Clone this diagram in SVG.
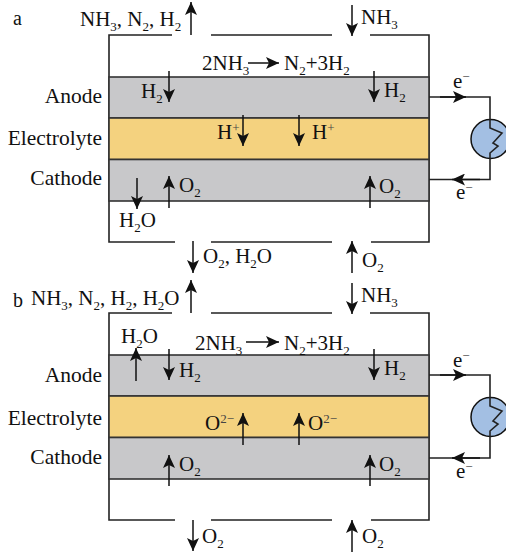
<svg xmlns="http://www.w3.org/2000/svg" width="506" height="553" viewBox="0 0 506 553">
<style>
text{font-family:"Liberation Serif","Times New Roman",serif;font-size:21px;fill:#111}
.t{font-size:21.500px}
.s{font-size:13px}
.p{font-size:13px;fill:#444}
.l{text-anchor:end}
.w{fill:none;stroke:#222;stroke-width:1.6}
.g{fill:#c8c8ca;stroke:#333;stroke-width:1.6}
.y{fill:#f4d27f;stroke:#333;stroke-width:1.6}
.a{stroke:#111;stroke-width:1.5;fill:none;marker-end:url(#h)}
.m{fill:#a3bfe3;stroke:#111;stroke-width:1.5}
</style>
<defs><marker id="h" markerUnits="userSpaceOnUse" markerWidth="14" markerHeight="12" refX="13" refY="6" orient="auto"><path d="M0 0L13 6L0 12L3 6Z" fill="#111"/></marker></defs>
<text x="13" y="25" style="font-size:20px">a</text>
<text x="13" y="307" style="font-size:20px">b</text>
<g id="cell-a">
<path class="w" d="M172 35H109V242H175M211 35H332M370 35H429V242H371M332 242H211"/>
<rect class="g" x="109" y="77" width="320" height="41"/>
<rect class="y" x="109" y="118" width="320" height="41.500"/>
<rect class="g" x="109" y="159.500" width="320" height="41.500"/>
</g>
<g id="cell-b">
<path class="w" d="M172 313H109V520H175M211 313H332M370 313H429V520H371M332 520H211"/>
<rect class="g" x="109" y="355" width="320" height="41"/>
<rect class="y" x="109" y="396" width="320" height="41.500"/>
<rect class="g" x="109" y="437.500" width="320" height="41.500"/>
</g>
<g id="meter-a"><circle class="m" cx="490.500" cy="139" r="19.500"/><path class="w" d="M490 119V128L502 133L493 143L498 146L490 153V158"/></g>
<g id="meter-b"><circle class="m" cx="490.500" cy="417" r="19.500"/><path class="w" d="M490 397V406L502 411L493 421L498 424L490 431V436"/></g>
<g id="connectors">
<path class="a" d="M191 35V2"/><path class="a" d="M352 5V36"/><path class="a" d="M248 63H279"/><path class="a" d="M169 71V102"/><path class="a" d="M374 71V102"/><path class="a" d="M243 115V146"/><path class="a" d="M299 115V146"/><path class="a" d="M137 178V209"/><path class="a" d="M169 208V176"/><path class="a" d="M370 208V176"/><path class="a" d="M193 241V273"/><path class="a" d="M352 273V241"/>
<path class="w" d="M429 97H490V119M490 158V179.500H429"/><path class="a" d="M440 97H466"/><path class="a" d="M480 179.500H452"/>
<path class="a" d="M191 313V280"/><path class="a" d="M352 283V314"/><path class="a" d="M246 342H279"/><path class="a" d="M136 381V348"/><path class="a" d="M169 349V380"/><path class="a" d="M374 349V380"/><path class="a" d="M243 445V413"/><path class="a" d="M299 445V413"/><path class="a" d="M169 486V455"/><path class="a" d="M370 486V455"/><path class="a" d="M193 520V551"/><path class="a" d="M352 552V520"/>
<path class="w" d="M429 375H490V397M490 436V458H429"/><path class="a" d="M440 375H466"/><path class="a" d="M480 458H452"/>
</g>
<g id="labels-a">
<text x="102" y="103" class="l t">Anode</text><text x="102" y="145" class="l t">Electrolyte</text><text x="102" y="185" class="l t">Cathode</text>
<text x="80" y="26">NH<tspan class="s" dy="5">3</tspan><tspan dy="-5">, N</tspan><tspan class="s" dy="5">2</tspan><tspan dy="-5">, H</tspan><tspan class="s" dy="5">2</tspan></text>
<text x="361" y="24">NH<tspan class="s" dy="5">3</tspan></text>
<text x="202" y="70">2NH<tspan class="s" dy="5">3</tspan></text>
<text x="284" y="70">N<tspan class="s" dy="5">2</tspan><tspan dy="-5">+3H</tspan><tspan class="s" dy="5">2</tspan></text>
<text x="141" y="98">H<tspan class="s" dy="5">2</tspan></text><text x="384" y="97">H<tspan class="s" dy="5">2</tspan></text>
<text x="217" y="139">H<tspan class="p" dy="-7">+</tspan></text><text x="312" y="139">H<tspan class="p" dy="-7">+</tspan></text>
<text x="179" y="192">O<tspan class="s" dy="5">2</tspan></text><text x="379" y="193">O<tspan class="s" dy="5">2</tspan></text>
<text x="119" y="227">H<tspan class="s" dy="5">2</tspan><tspan dy="-5">O</tspan></text>
<text x="203" y="263">O<tspan class="s" dy="5">2</tspan><tspan dy="-5">, H</tspan><tspan class="s" dy="5">2</tspan><tspan dy="-5">O</tspan></text>
<text x="362" y="267">O<tspan class="s" dy="5">2</tspan></text>
<text x="453" y="88">e<tspan class="p" dy="-7">−</tspan></text><text x="456" y="199">e<tspan class="p" dy="-7">−</tspan></text>
</g>
<g id="labels-b">
<text x="102" y="382" class="l t">Anode</text><text x="102" y="425" class="l t">Electrolyte</text><text x="102" y="464" class="l t">Cathode</text>
<text x="31" y="305">NH<tspan class="s" dy="5">3</tspan><tspan dy="-5">, N</tspan><tspan class="s" dy="5">2</tspan><tspan dy="-5">, H</tspan><tspan class="s" dy="5">2</tspan><tspan dy="-5">, H</tspan><tspan class="s" dy="5">2</tspan><tspan dy="-5">O</tspan></text>
<text x="361" y="302">NH<tspan class="s" dy="5">3</tspan></text>
<text x="195" y="350">2NH<tspan class="s" dy="5">3</tspan></text>
<text x="284" y="350">N<tspan class="s" dy="5">2</tspan><tspan dy="-5">+3H</tspan><tspan class="s" dy="5">2</tspan></text>
<text x="121" y="343">H<tspan class="s" dy="5">2</tspan><tspan dy="-5">O</tspan></text>
<text x="179" y="377">H<tspan class="s" dy="5">2</tspan></text><text x="384" y="375">H<tspan class="s" dy="5">2</tspan></text>
<text x="205" y="430">O<tspan class="p" dy="-7">2−</tspan></text><text x="308" y="430">O<tspan class="p" dy="-7">2−</tspan></text>
<text x="179" y="471">O<tspan class="s" dy="5">2</tspan></text><text x="379" y="471">O<tspan class="s" dy="5">2</tspan></text>
<text x="202" y="543">O<tspan class="s" dy="5">2</tspan></text><text x="362" y="543">O<tspan class="s" dy="5">2</tspan></text>
<text x="453" y="367">e<tspan class="p" dy="-7">−</tspan></text><text x="456" y="478">e<tspan class="p" dy="-7">−</tspan></text>
</g>
</svg>
